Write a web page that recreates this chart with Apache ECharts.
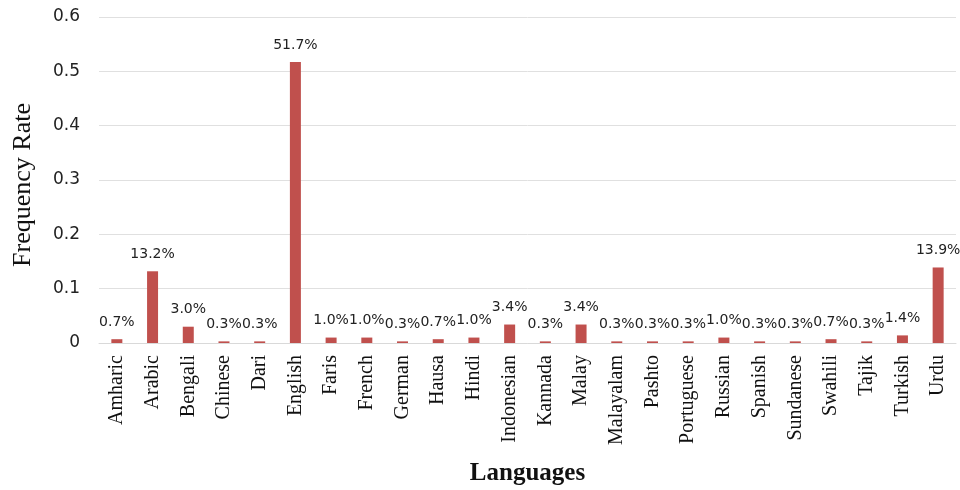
<!DOCTYPE html>
<html><head><meta charset="utf-8">
<script src="https://cdn.jsdelivr.net/npm/echarts@6/dist/echarts.min.js"></script>
<style>html,body{margin:0;padding:0;background:#fff}#c{width:960px;height:490px}</style>
</head><body><div id="c"></div>
<script>
const categories = ["Amharic","Arabic","Bengali","Chinese","Dari","English","Faris","French","German","Hausa","Hindi","Indonesian","Kannada","Malay","Malayalam","Pashto","Portuguese","Russian","Spanish","Sundanese","Swahili","Tajik","Turkish","Urdu"];
const values = [0.007,0.132,0.030,0.003,0.003,0.517,0.010,0.010,0.003,0.007,0.010,0.034,0.003,0.034,0.003,0.003,0.003,0.010,0.003,0.003,0.007,0.003,0.014,0.139];
const yTicks = [0,0.1,0.2,0.3,0.4,0.5,0.6];

const chart = echarts.init(document.getElementById('c'));
chart.setOption({
  animation:false,
  grid:{left:99,right:4,top:17,bottom:147,containLabel:false,outerBoundsMode:'none'},
  xAxis:{
    type:'category', data:categories,
    name:'Languages', nameLocation:'middle', nameGap:118,
    nameTextStyle:{fontFamily:'Liberation Serif',fontSize:25,fontWeight:'bold',color:'#111'},
    axisLine:{lineStyle:{color:'#d9d9d9'}},
    axisTick:{show:false},
    axisLabel:{rotate:90,interval:0,fontFamily:'Liberation Serif',fontSize:20,color:'#111',margin:12}
  },
  yAxis:{
    type:'value', min:0, max:0.6, interval:0.1,
    name:'Frequency Rate', nameLocation:'middle', nameGap:63,
    nameTextStyle:{fontFamily:'Liberation Serif',fontSize:26,color:'#111',padding:[0,10,0,0]},
    axisLine:{show:false}, axisTick:{show:false},
    splitLine:{lineStyle:{color:'#e0e0e0'}},
    axisLabel:{fontFamily:'DejaVu Sans',fontSize:17,color:'#222',margin:19,
      formatter:v=>{const t=yTicks.find(x=>Math.abs(x-v)<1e-9);return String(t!==undefined?t:v);}}
  },
  series:[{
    type:'bar', data:values, barWidth:11,
    itemStyle:{color:'#c0504d'},
    label:{show:true,position:'top',distance:10,fontFamily:'DejaVu Sans',fontSize:14,color:'#222',
      formatter:p=>(p.value*100).toFixed(1)+'%'}
  }]
});
</script></body></html>
